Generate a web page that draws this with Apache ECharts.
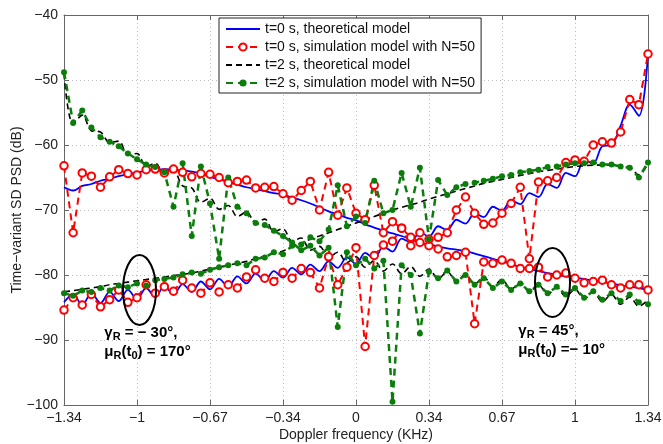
<!DOCTYPE html>
<html>
<head>
<meta charset="utf-8">
<script src="https://cdn.jsdelivr.net/npm/echarts@6/dist/echarts.min.js"></script>
<style>
html,body{margin:0;padding:0;background:#fff;}
#chart{width:663px;height:444px;}
</style>
</head>
<body>
<div id="chart"></div>
<script>
// Doppler frequency grid (KHz)
const freq = [-1.34,-1.2981,-1.2563,-1.2144,-1.1725,-1.1306,-1.0888,-1.0469,-1.005,-0.9631,
  -0.9213,-0.8794,-0.8375,-0.7956,-0.7538,-0.7119,-0.67,-0.6281,-0.5863,-0.5444,
  -0.5025,-0.4606,-0.4188,-0.3769,-0.335,-0.2931,-0.2513,-0.2094,-0.1675,-0.1256,
  -0.0838,-0.0419,0,0.0419,0.0838,0.1256,0.1675,0.2094,0.2513,0.2931,
  0.335,0.3769,0.4188,0.4606,0.5025,0.5444,0.5863,0.6281,0.67,0.7119,
  0.7538,0.7956,0.8375,0.8794,0.9213,0.9631,1.005,1.0469,1.0888,1.1306,
  1.1725,1.2144,1.2563,1.2981,1.34];

// t=0 s theoretical (gammaR=45 branch, decreasing)
const theoT0Dec = [-66.5,-67,-66.3,-66,-65.5,-65.2,-64.8,-64.5,-64.2,-64,
  -63.8,-63.7,-63.8,-63.9,-64.1,-64.4,-64.9,-65.3,-65.7,-66.1,
  -66.5,-66.8,-67.1,-67.4,-67.6,-68.1,-68.5,-69,-69.6,-70.2,
  -70.7,-71.2,-71.6,-72.2,-72.7,-73.2,-73.6,-74,-74.5,-75,
  -75.3,-75.6,-75.9,-76.1,-76.3,-76.7,-77.1,-77.5,-77.9,-78.3,
  -78.8,-79.1,-79.4,-79.7,-80,-80.2,-80.4,-80.6,-80.9,-81.1,
  -81.3,-81.6,-81.8,-82,-82.3];
// t=0 s theoretical (gammaR=-30 branch, increasing)
const theoT0Inc = [-84.2,-83.0,-84.6,-82.8,-84.3,-82.6,-84.0,-82.3,-83.7,-82.0,
  -83.4,-81.7,-83.0,-81.4,-82.6,-81.0,-82.2,-80.6,-81.8,-80.2,
  -81.3,-79.8,-80.9,-79.4,-80.4,-78.9,-79.9,-78.4,-79.4,-77.9,
  -78.9,-77.3,-78.3,-76.6,-77.5,-75.6,-76.4,-74.4,-75.0,-73.4,
  -74.1,-72.5,-73.1,-71.5,-72.1,-70.5,-71.1,-69.5,-70.1,-68.5,
  -69.1,-67.4,-68.0,-66.0,-66.6,-64.3,-64.8,-62.4,-62.8,-60.2,
  -60.0,-57.0,-53.8,-55.5,-46];
// t=0 s simulation N=50
const simT0Dec = [-63.2,-73.5,-64.3,-64.8,-66.5,-64.9,-63.8,-64.4,-64.6,-63.8,
  -63.7,-64.3,-63.7,-64.2,-64.9,-64.4,-64.5,-65,-65.8,-65.6,
  -65.4,-66.6,-66.5,-66.4,-67.5,-68.5,-67,-65.6,-70,-64.2,
  -70.8,-66.6,-70.5,-71.5,-66.2,-73.5,-71.8,-72.8,-74.2,-75,
  -75.5,-76,-77.2,-77,-76.5,-87.5,-78,-78.2,-77.7,-78.2,
  -79,-79,-78.8,-80.3,-80,-79.7,-80.5,-81.2,-81,-80.8,
  -81.5,-82,-81.5,-81.5,-82.3];
const simT0Inc = [-85.4,-83.5,-84.6,-83,-84.9,-83.8,-82.3,-84.2,-83.5,-81.5,
  -82.8,-81.8,-82.5,-80.8,-82,-82.8,-81.2,-82.6,-81.5,-82,
  -80.3,-79.2,-80.5,-81,-79.6,-80.5,-79,-79.6,-82,-77.2,
  -81.5,-78.8,-75.8,-91,-77,-75.4,-74.8,-72.8,-75.5,-73.5,
  -74.5,-74.2,-73.5,-70,-68,-70.5,-72.2,-72,-70.5,-69,
  -66.5,-77.5,-65.7,-65.5,-65,-62.7,-62.3,-62.5,-60,-59.5,
  -59.7,-58,-53,-53.8,-46];
// t=2 s theoretical
const theoT2Dec = [-49,-56.8,-55.4,-57.8,-58.0,-59.6,-59.4,-61.5,-61.3,-63.3,
  -62.8,-64.5,-64.0,-66.3,-66.6,-68.8,-68.2,-69.9,-69.3,-71.0,
  -70.3,-72.0,-71.4,-73.3,-72.9,-74.8,-74.3,-76.2,-75.6,-77.3,
  -76.5,-78.1,-77.2,-78.8,-77.8,-79.4,-78.3,-79.8,-78.7,-80.2,
  -79.1,-80.6,-79.5,-81.0,-79.9,-81.4,-80.3,-81.8,-80.7,-82.2,
  -81.1,-82.6,-81.5,-83.0,-81.9,-83.3,-82.2,-83.7,-82.6,-84.1,
  -83.0,-84.5,-83.4,-84.8,-83.8];
const theoT2Inc = [-82.6,-82.4,-82.2,-82,-81.8,-81.5,-81.3,-81.1,-80.9,-80.7,
  -80.5,-80.3,-80.1,-79.9,-79.7,-79.4,-79.1,-78.8,-78.5,-78.2,
  -77.9,-77.5,-77.1,-76.7,-76.3,-75.7,-75.1,-74.5,-74,-73.5,
  -73,-72.5,-72,-71.5,-71,-70.5,-70,-69.6,-69.2,-68.8,
  -68.3,-67.9,-67.5,-67.1,-66.7,-66.3,-65.9,-65.6,-65.3,-65,
  -64.7,-64.4,-64.1,-63.9,-63.7,-63.5,-63.3,-63.2,-63.1,-63.1,
  -63.1,-63.2,-63.4,-64.6,-62.8];
// t=2 s simulation N=50
const simT2Dec = [-48.8,-56.6,-54.7,-57.3,-58.8,-59.5,-60.2,-61.3,-62.2,-63,
  -63.4,-64.2,-69.5,-62.8,-74,-63.3,-69,-77.5,-65,-69.5,
  -70.5,-72,-72.3,-73.2,-74,-75,-76.2,-75.5,-77,-75.8,
  -88,-76.5,-78.5,-77.5,-79,-77.8,-99.5,-78.5,-80,-89,
  -79.5,-80.5,-79.3,-81,-80,-81.5,-80.5,-82,-81,-82.3,
  -81.3,-82.5,-81.5,-82.8,-81.8,-83,-82,-83.5,-82.5,-83.8,
  -82.8,-84,-83,-84.2,-84.5];
const simT2Inc = [-82.8,-83.2,-82.4,-82.6,-82,-82.4,-81.6,-81.9,-81.3,-81.6,
  -80.8,-80.6,-80.4,-79.9,-79.6,-79.8,-79.2,-78.8,-78.5,-78.2,
  -78.5,-77.5,-77.3,-76.5,-76.8,-75.5,-75.3,-74.2,-74.8,-73,
  -66.2,-72.5,-71,-72,-65.5,-70.5,-70,-64.3,-69.5,-63.5,
  -74.5,-65.4,-67.7,-66.5,-66,-65.8,-65.5,-65.2,-64.8,-64.6,
  -64.2,-64,-63.8,-63.4,-63.3,-63,-62.8,-62.8,-62.7,-63,
  -63,-63.3,-63.5,-65,-62.7];

const xTickLabels = ['\u22121.34','\u22121','\u22120.67','\u22120.34','0','0.34','0.67','1','1.34'];
const legendNames = ['t=0 s, theoretical model','t=0 s, simulation model with N=50',
  't=2 s, theoretical model','t=2 s, simulation model with N=50'];

const FONT = 'Liberation Sans, Arial, Helvetica, sans-serif';
const pairs = arr => freq.map((x, i) => [x, arr[i]]);

const chart = echarts.init(document.getElementById('chart'), null, {renderer: 'canvas'});

function theo(name, arr, color, dashed, width) {
  return {
    name, type: 'line', data: pairs(arr), symbol: 'none', smooth: 0.35,
    lineStyle: {color, width, type: dashed ? [6, 4] : 'solid'},
    itemStyle: {color}, z: 2
  };
}
function sim(name, arr, color, symbol, size, width) {
  return {
    name, type: 'line', data: pairs(arr), symbol, symbolSize: size, showSymbol: true, showAllSymbol: true,
    lineStyle: {color, width, type: [7, 5]},
    itemStyle: {color, borderWidth: symbol === 'emptyCircle' ? 1.3 : 0},
    z: 3
  };
}

const grid = {left: 64, right: 15, top: 15, bottom: 39, outerBoundsMode: 'none', containLabel: false};
const axisLineStyle = {color: '#666', width: 1};
const splitStyle = {color: '#bdbdbd', width: 1, type: [1, 3]};

chart.setOption({
  animation: false,
  backgroundColor: '#fff',
  grid,
  legend: {
    data: [
      {name: legendNames[0], itemStyle: {opacity: 0}},
      {name: legendNames[1]},
      {name: legendNames[2], itemStyle: {opacity: 0}},
      {name: legendNames[3]}
    ],
    orient: 'vertical', left: 219, top: 18,
    backgroundColor: '#fff', borderColor: '#222', borderWidth: 1,
    padding: [4, 6, 3, 6], itemGap: 4, itemWidth: 34, itemHeight: 9,
    textStyle: {fontSize: 14, fontFamily: FONT, color: '#111', lineHeight: 14}
  },
  xAxis: [{
    type: 'value', min: -1.34, max: 1.34, interval: 0.335, position: 'bottom',
    axisLine: {show: true, onZero: false, lineStyle: axisLineStyle},
    axisTick: {show: true, inside: true, length: 5, lineStyle: axisLineStyle},
    axisLabel: {color: '#222', fontSize: 14, fontFamily: FONT, margin: 6,
      formatter: v => xTickLabels[Math.round((v + 1.34) / 0.335)]},
    splitLine: {show: true, lineStyle: splitStyle},
    name: 'Doppler frequency (KHz)', nameLocation: 'middle', nameGap: 23, nameMoveOverlap: false,
    nameTextStyle: {fontSize: 14, fontFamily: FONT, color: '#222'}
  }, {
    type: 'value', min: -1.34, max: 1.34, interval: 0.335, position: 'top',
    axisLine: {show: true, onZero: false, lineStyle: axisLineStyle},
    axisTick: {show: true, inside: true, length: 5, lineStyle: axisLineStyle},
    axisLabel: {show: false}, splitLine: {show: false}
  }],
  yAxis: [{
    type: 'value', min: -100, max: -40, interval: 10, position: 'left',
    axisLine: {show: true, onZero: false, lineStyle: axisLineStyle},
    axisTick: {show: true, inside: true, length: 5, lineStyle: axisLineStyle},
    axisLabel: {color: '#222', fontSize: 14, fontFamily: FONT, margin: 6,
      formatter: v => String(v).replace('-', '\u2212')},
    splitLine: {show: true, lineStyle: splitStyle},
    name: 'Time\u2212variant SD PSD (dB)', nameLocation: 'middle', nameGap: 40, nameMoveOverlap: false,
    nameTextStyle: {fontSize: 14, fontFamily: FONT, color: '#222'}
  }, {
    type: 'value', min: -100, max: -40, interval: 10, position: 'right',
    axisLine: {show: true, onZero: false, lineStyle: axisLineStyle},
    axisTick: {show: true, inside: true, length: 5, lineStyle: axisLineStyle},
    axisLabel: {show: false}, splitLine: {show: false}
  }],
  series: [
    theo(legendNames[0], theoT0Dec, '#0000ff', false, 1.8),
    theo(legendNames[0], theoT0Inc, '#0000ff', false, 1.8),
    sim(legendNames[1], simT0Dec, '#ff0000', 'emptyCircle', 7.5, 2),
    sim(legendNames[1], simT0Inc, '#ff0000', 'emptyCircle', 7.5, 2),
    theo(legendNames[2], theoT2Dec, '#000000', true, 1.6),
    theo(legendNames[2], theoT2Inc, '#000000', true, 1.6),
    sim(legendNames[3], simT2Dec, '#0b7d0b', 'circle', 6, 2.5),
    sim(legendNames[3], simT2Inc, '#0b7d0b', 'circle', 6, 2.5)
  ]
});

// Annotations: ellipses and scenario labels, anchored in data coordinates
const ellipses = [{x: -0.9935, y: -82.3, rx: 16.5, ry: 35}, {x: 0.9018, y: -81.15, rx: 17.5, ry: 34.5}];
const notes = [
  {x: -1.155, y: -87.4, l1: ['\u03b3', 'R', ' = \u2212 30\u00b0,'], l2: ['\u03bc', 'R', '(t', '0', ') = 170\u00b0']},
  {x: 0.745, y: -87.1, l1: ['\u03b3', 'R', ' = 45\u00b0,'], l2: ['\u03bc', 'R', '(t', '0', ') =\u2212 10\u00b0']}
];
const P = (x, y) => chart.convertToPixel({xAxisIndex: 0, yAxisIndex: 0}, [x, y]);
const graphics = [];
ellipses.forEach(e => {
  const p = P(e.x, e.y);
  graphics.push({type: 'ellipse', shape: {cx: p[0], cy: p[1], rx: e.rx, ry: e.ry},
    style: {fill: 'none', stroke: '#000', lineWidth: 2}, z: 10});
});
const rich = {
  m: {fontSize: 15, fontWeight: 'bold', fontFamily: FONT, color: '#111', lineHeight: 19},
  s: {fontSize: 11, fontWeight: 'bold', fontFamily: FONT, color: '#111', lineHeight: 19, padding: [9, 0, 0, 0]}
};
const toRich = parts => parts.map((t, i) => (i % 2 === 0 ? '{m|' : '{s|') + t + '}').join('');
notes.forEach(n => {
  const p = P(n.x, n.y);
  graphics.push({type: 'text', x: p[0], y: p[1], z: 10,
    style: {text: toRich(n.l1) + '\n' + toRich(n.l2), rich, textVerticalAlign: 'top'}});
});
chart.setOption({graphic: graphics});
</script>
</body>
</html>
